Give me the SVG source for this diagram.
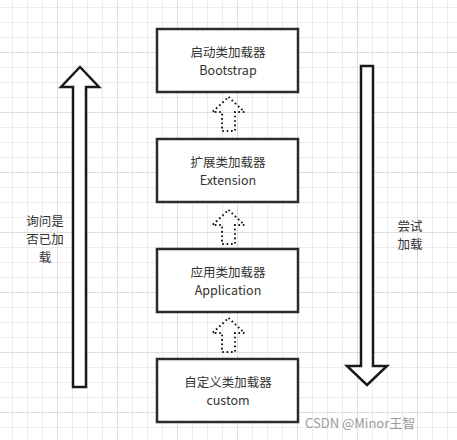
<svg xmlns="http://www.w3.org/2000/svg" width="457" height="440" viewBox="0 0 457 440">
<defs>
<pattern id="grid" patternUnits="userSpaceOnUse" x="57" y="52" width="60" height="60">
<rect x="0" y="0" width="60" height="60" fill="#ffffff"/>
<rect x="15" y="0" width="1" height="60" fill="#ececec"/>
<rect x="30" y="0" width="1" height="60" fill="#ececec"/>
<rect x="45" y="0" width="1" height="60" fill="#ececec"/>
<rect x="0" y="15" width="60" height="1" fill="#ececec"/>
<rect x="0" y="30" width="60" height="1" fill="#ececec"/>
<rect x="0" y="45" width="60" height="1" fill="#ececec"/>
<rect x="0" y="0" width="1" height="60" fill="#dedede"/>
<rect x="0" y="0" width="60" height="1" fill="#dedede"/>
</pattern>
<path id="dotarrow" d="M0,0 L16,15 L6.5,15 L6.5,34 L-6.5,34 L-6.5,15 L-16,15 Z"/>
</defs>
<style>
.box{fill:#ffffff;stroke:#2b2b2b;stroke-width:2.5}
.t{font-family:"Noto Sans CJK SC","Microsoft YaHei",sans-serif;font-size:12.5px;fill:#333333;text-anchor:middle}
.big{fill:#ffffff;stroke:#1a1a1a;stroke-width:2.5;stroke-linejoin:miter}
.dot{fill:none;stroke:#1a1a1a;stroke-width:2;stroke-dasharray:1.6 2.8;stroke-linecap:butt}
.wm{font-family:"Noto Sans CJK SC","Microsoft YaHei",sans-serif;font-size:13px;fill:#9a9a9a}
</style>
<rect x="0" y="0" width="457" height="440" fill="url(#grid)"/>
<g id="connectors">
<use href="#dotarrow" class="dot" x="228.5" y="97"/>
<use href="#dotarrow" class="dot" x="228.5" y="210"/>
<use href="#dotarrow" class="dot" x="228.5" y="318"/>
<path class="big" d="M80,67 L99,87 L86,87 L86,387 L73,387 L73,87 L61,87 Z"/>
<path class="big" d="M367,385 L387,366 L373,366 L373,66 L361,66 L361,366 L347,366 Z"/>
</g>
<g id="bootstrap">
<rect class="box" x="157" y="29" width="141" height="63"/>
<text class="t" x="228" y="57">启动类加载器</text>
<text class="t" x="228" y="75">Bootstrap</text>
</g>
<g id="extension">
<rect class="box" x="157" y="139" width="141" height="63"/>
<text class="t" x="228" y="167">扩展类加载器</text>
<text class="t" x="228" y="185">Extension</text>
</g>
<g id="application">
<rect class="box" x="157" y="249" width="141" height="63"/>
<text class="t" x="228" y="277">应用类加载器</text>
<text class="t" x="228" y="295">Application</text>
</g>
<g id="custom">
<rect class="box" x="157" y="359" width="141" height="63"/>
<text class="t" x="228" y="387">自定义类加载器</text>
<text class="t" x="228" y="405">custom</text>
</g>
<g id="label-left">
<text class="t" x="45" y="226">询问是</text>
<text class="t" x="45" y="244">否已加</text>
<text class="t" x="45" y="262">载</text>
</g>
<g id="label-right">
<text class="t" x="410" y="231">尝试</text>
<text class="t" x="410" y="249">加载</text>
</g>
<text class="wm" x="305" y="428">CSDN @Minor王智</text>
</svg>
